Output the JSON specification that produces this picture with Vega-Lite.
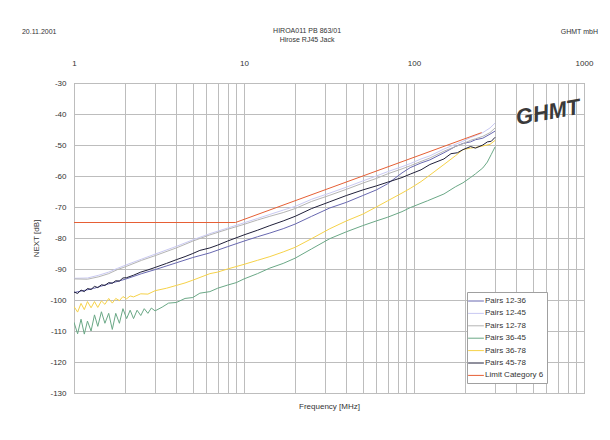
{
  "$schema": "https://vega.github.io/schema/vega-lite/v6.json",
  "width": 510,
  "height": 310,
  "autosize": {"type": "none"},
  "padding": {"left": 74, "top": 83, "right": 26, "bottom": 47},
  "background": "white",
  "config": {
    "font": "Liberation Sans",
    "view": {"stroke": "#9a9a9a", "strokeWidth": 1},
    "axis": {"labelFont": "Liberation Sans", "titleFont": "Liberation Sans", "labelColor": "#333", "titleColor": "#333"}
  },
  "datasets": {
    "curves": [
      {"s":"Pairs 12-36","f":1,"v":-97.6},{"s":"Pairs 12-36","f":1.3,"v":-96.3},{"s":"Pairs 12-36","f":1.6,"v":-94.8},{"s":"Pairs 12-36","f":2,"v":-93.3},{"s":"Pairs 12-36","f":2.5,"v":-91.5},{"s":"Pairs 12-36","f":3,"v":-90.2},{"s":"Pairs 12-36","f":4,"v":-88},{"s":"Pairs 12-36","f":5,"v":-86.3},{"s":"Pairs 12-36","f":6.3,"v":-84.8},{"s":"Pairs 12-36","f":8,"v":-82.8},{"s":"Pairs 12-36","f":10,"v":-81},{"s":"Pairs 12-36","f":12,"v":-79.6},{"s":"Pairs 12-36","f":14.2,"v":-78.4},{"s":"Pairs 12-36","f":17,"v":-77},{"s":"Pairs 12-36","f":20,"v":-75.5},{"s":"Pairs 12-36","f":25,"v":-73},{"s":"Pairs 12-36","f":32,"v":-70.3},{"s":"Pairs 12-36","f":40,"v":-68.5},{"s":"Pairs 12-36","f":50,"v":-66.3},{"s":"Pairs 12-36","f":60,"v":-64.5},{"s":"Pairs 12-36","f":70,"v":-62.5},{"s":"Pairs 12-36","f":85,"v":-59},{"s":"Pairs 12-36","f":95,"v":-57.3},{"s":"Pairs 12-36","f":110,"v":-55.8},{"s":"Pairs 12-36","f":124,"v":-54.8},{"s":"Pairs 12-36","f":150,"v":-52.5},{"s":"Pairs 12-36","f":175,"v":-50.5},{"s":"Pairs 12-36","f":194,"v":-49.5},{"s":"Pairs 12-36","f":215,"v":-49},{"s":"Pairs 12-36","f":230,"v":-48.3},{"s":"Pairs 12-36","f":254,"v":-47.8},{"s":"Pairs 12-36","f":280,"v":-46.5},{"s":"Pairs 12-36","f":300,"v":-45.5},

      {"s":"Pairs 12-45","f":1,"v":-93},{"s":"Pairs 12-45","f":1.2,"v":-92.9},{"s":"Pairs 12-45","f":1.4,"v":-92},{"s":"Pairs 12-45","f":1.6,"v":-91},{"s":"Pairs 12-45","f":1.8,"v":-89.8},{"s":"Pairs 12-45","f":2,"v":-88.8},{"s":"Pairs 12-45","f":2.5,"v":-86.8},{"s":"Pairs 12-45","f":3,"v":-85.2},{"s":"Pairs 12-45","f":4,"v":-82.7},{"s":"Pairs 12-45","f":5,"v":-80.6},{"s":"Pairs 12-45","f":6.3,"v":-78.6},{"s":"Pairs 12-45","f":8,"v":-76.8},{"s":"Pairs 12-45","f":10,"v":-75.1},{"s":"Pairs 12-45","f":12,"v":-73.7},{"s":"Pairs 12-45","f":14.2,"v":-72.4},{"s":"Pairs 12-45","f":17,"v":-71},{"s":"Pairs 12-45","f":20,"v":-69.8},{"s":"Pairs 12-45","f":25,"v":-67.5},{"s":"Pairs 12-45","f":32,"v":-65.5},{"s":"Pairs 12-45","f":40,"v":-63.6},{"s":"Pairs 12-45","f":50,"v":-61.6},{"s":"Pairs 12-45","f":60,"v":-60},{"s":"Pairs 12-45","f":70,"v":-58.6},{"s":"Pairs 12-45","f":85,"v":-57},{"s":"Pairs 12-45","f":95,"v":-56},{"s":"Pairs 12-45","f":110,"v":-54.5},{"s":"Pairs 12-45","f":124,"v":-53.5},{"s":"Pairs 12-45","f":150,"v":-51.3},{"s":"Pairs 12-45","f":175,"v":-49.8},{"s":"Pairs 12-45","f":194,"v":-48.8},{"s":"Pairs 12-45","f":215,"v":-47.6},{"s":"Pairs 12-45","f":230,"v":-47},{"s":"Pairs 12-45","f":254,"v":-46},{"s":"Pairs 12-45","f":280,"v":-44.5},{"s":"Pairs 12-45","f":300,"v":-42.9},

      {"s":"Pairs 12-78","f":1,"v":-93.2},{"s":"Pairs 12-78","f":1.2,"v":-93.3},{"s":"Pairs 12-78","f":1.4,"v":-92.5},{"s":"Pairs 12-78","f":1.6,"v":-91.5},{"s":"Pairs 12-78","f":1.8,"v":-90.2},{"s":"Pairs 12-78","f":2,"v":-89.3},{"s":"Pairs 12-78","f":2.5,"v":-87.2},{"s":"Pairs 12-78","f":3,"v":-85.7},{"s":"Pairs 12-78","f":4,"v":-83.2},{"s":"Pairs 12-78","f":5,"v":-81},{"s":"Pairs 12-78","f":6.3,"v":-79},{"s":"Pairs 12-78","f":8,"v":-77.2},{"s":"Pairs 12-78","f":10,"v":-75.6},{"s":"Pairs 12-78","f":12,"v":-74.2},{"s":"Pairs 12-78","f":14.2,"v":-73},{"s":"Pairs 12-78","f":17,"v":-71.8},{"s":"Pairs 12-78","f":20,"v":-70.5},{"s":"Pairs 12-78","f":25,"v":-68.2},{"s":"Pairs 12-78","f":32,"v":-66.2},{"s":"Pairs 12-78","f":40,"v":-64.3},{"s":"Pairs 12-78","f":50,"v":-62.3},{"s":"Pairs 12-78","f":60,"v":-60.8},{"s":"Pairs 12-78","f":70,"v":-59.3},{"s":"Pairs 12-78","f":85,"v":-57.7},{"s":"Pairs 12-78","f":95,"v":-56.7},{"s":"Pairs 12-78","f":110,"v":-55.3},{"s":"Pairs 12-78","f":124,"v":-54.2},{"s":"Pairs 12-78","f":150,"v":-52},{"s":"Pairs 12-78","f":175,"v":-50.5},{"s":"Pairs 12-78","f":194,"v":-49.6},{"s":"Pairs 12-78","f":215,"v":-48.5},{"s":"Pairs 12-78","f":230,"v":-48},{"s":"Pairs 12-78","f":254,"v":-47.2},{"s":"Pairs 12-78","f":280,"v":-46},{"s":"Pairs 12-78","f":300,"v":-44.5},

      {"s":"Pairs 36-45","f":1,"v":-107.2},{"s":"Pairs 36-45","f":1.05,"v":-110.9},{"s":"Pairs 36-45","f":1.1,"v":-106.2},{"s":"Pairs 36-45","f":1.15,"v":-111},{"s":"Pairs 36-45","f":1.2,"v":-106.8},{"s":"Pairs 36-45","f":1.26,"v":-110},{"s":"Pairs 36-45","f":1.32,"v":-104.8},{"s":"Pairs 36-45","f":1.38,"v":-108.5},{"s":"Pairs 36-45","f":1.45,"v":-103.8},{"s":"Pairs 36-45","f":1.52,"v":-107.5},{"s":"Pairs 36-45","f":1.6,"v":-104.3},{"s":"Pairs 36-45","f":1.68,"v":-109.5},{"s":"Pairs 36-45","f":1.76,"v":-104.3},{"s":"Pairs 36-45","f":1.85,"v":-107.5},{"s":"Pairs 36-45","f":1.94,"v":-102.8},{"s":"Pairs 36-45","f":2.04,"v":-106},{"s":"Pairs 36-45","f":2.14,"v":-103.3},{"s":"Pairs 36-45","f":2.24,"v":-106},{"s":"Pairs 36-45","f":2.35,"v":-103.3},{"s":"Pairs 36-45","f":2.47,"v":-105},{"s":"Pairs 36-45","f":2.59,"v":-102.8},{"s":"Pairs 36-45","f":2.72,"v":-104.3},{"s":"Pairs 36-45","f":2.85,"v":-102.6},{"s":"Pairs 36-45","f":3,"v":-103.5},{"s":"Pairs 36-45","f":3.3,"v":-102.3},{"s":"Pairs 36-45","f":3.6,"v":-101},{"s":"Pairs 36-45","f":4,"v":-100.8},{"s":"Pairs 36-45","f":4.5,"v":-99.5},{"s":"Pairs 36-45","f":5,"v":-99.2},{"s":"Pairs 36-45","f":5.5,"v":-97.8},{"s":"Pairs 36-45","f":6.3,"v":-97.3},{"s":"Pairs 36-45","f":7,"v":-96.2},{"s":"Pairs 36-45","f":8,"v":-95.2},{"s":"Pairs 36-45","f":9,"v":-94.4},{"s":"Pairs 36-45","f":10,"v":-93.2},{"s":"Pairs 36-45","f":12,"v":-91.5},{"s":"Pairs 36-45","f":14.2,"v":-89.7},{"s":"Pairs 36-45","f":17,"v":-88.2},{"s":"Pairs 36-45","f":20,"v":-86.5},{"s":"Pairs 36-45","f":25,"v":-83.5},{"s":"Pairs 36-45","f":32,"v":-80.2},{"s":"Pairs 36-45","f":40,"v":-78},{"s":"Pairs 36-45","f":50,"v":-76},{"s":"Pairs 36-45","f":60,"v":-74.5},{"s":"Pairs 36-45","f":70,"v":-73.3},{"s":"Pairs 36-45","f":85,"v":-71.5},{"s":"Pairs 36-45","f":95,"v":-70.2},{"s":"Pairs 36-45","f":120,"v":-68},{"s":"Pairs 36-45","f":150,"v":-65.8},{"s":"Pairs 36-45","f":175,"v":-63.5},{"s":"Pairs 36-45","f":194,"v":-62.2},{"s":"Pairs 36-45","f":215,"v":-60.5},{"s":"Pairs 36-45","f":230,"v":-59.3},{"s":"Pairs 36-45","f":254,"v":-57.4},{"s":"Pairs 36-45","f":270,"v":-55.5},{"s":"Pairs 36-45","f":285,"v":-53},{"s":"Pairs 36-45","f":300,"v":-50.6},

      {"s":"Pairs 36-78","f":1,"v":-102.1},{"s":"Pairs 36-78","f":1.05,"v":-103.9},{"s":"Pairs 36-78","f":1.1,"v":-101.1},{"s":"Pairs 36-78","f":1.15,"v":-103.1},{"s":"Pairs 36-78","f":1.2,"v":-100.5},{"s":"Pairs 36-78","f":1.26,"v":-102.5},{"s":"Pairs 36-78","f":1.32,"v":-100.5},{"s":"Pairs 36-78","f":1.38,"v":-102.4},{"s":"Pairs 36-78","f":1.45,"v":-100.3},{"s":"Pairs 36-78","f":1.52,"v":-101.4},{"s":"Pairs 36-78","f":1.6,"v":-99.5},{"s":"Pairs 36-78","f":1.68,"v":-101},{"s":"Pairs 36-78","f":1.76,"v":-99.5},{"s":"Pairs 36-78","f":1.85,"v":-100.2},{"s":"Pairs 36-78","f":1.94,"v":-98.9},{"s":"Pairs 36-78","f":2.04,"v":-99.6},{"s":"Pairs 36-78","f":2.14,"v":-98.7},{"s":"Pairs 36-78","f":2.24,"v":-99},{"s":"Pairs 36-78","f":2.47,"v":-98},{"s":"Pairs 36-78","f":2.72,"v":-98.1},{"s":"Pairs 36-78","f":3,"v":-97},{"s":"Pairs 36-78","f":3.5,"v":-96.2},{"s":"Pairs 36-78","f":4,"v":-95.3},{"s":"Pairs 36-78","f":4.5,"v":-94.5},{"s":"Pairs 36-78","f":5,"v":-93.6},{"s":"Pairs 36-78","f":6.3,"v":-91.5},{"s":"Pairs 36-78","f":7,"v":-91},{"s":"Pairs 36-78","f":8,"v":-90},{"s":"Pairs 36-78","f":10,"v":-88.5},{"s":"Pairs 36-78","f":12,"v":-87.2},{"s":"Pairs 36-78","f":14.2,"v":-86},{"s":"Pairs 36-78","f":17,"v":-84.5},{"s":"Pairs 36-78","f":20,"v":-83},{"s":"Pairs 36-78","f":25,"v":-80.2},{"s":"Pairs 36-78","f":32,"v":-77},{"s":"Pairs 36-78","f":40,"v":-74.5},{"s":"Pairs 36-78","f":50,"v":-72.3},{"s":"Pairs 36-78","f":60,"v":-70},{"s":"Pairs 36-78","f":70,"v":-68},{"s":"Pairs 36-78","f":85,"v":-65.5},{"s":"Pairs 36-78","f":95,"v":-64},{"s":"Pairs 36-78","f":110,"v":-61.8},{"s":"Pairs 36-78","f":124,"v":-59.7},{"s":"Pairs 36-78","f":150,"v":-56.3},{"s":"Pairs 36-78","f":175,"v":-53.5},{"s":"Pairs 36-78","f":194,"v":-51.5},{"s":"Pairs 36-78","f":215,"v":-51},{"s":"Pairs 36-78","f":230,"v":-50.8},{"s":"Pairs 36-78","f":254,"v":-50.3},{"s":"Pairs 36-78","f":280,"v":-49.8},{"s":"Pairs 36-78","f":300,"v":-48.5},

      {"s":"Pairs 45-78","f":1,"v":-97.4},{"s":"Pairs 45-78","f":1.05,"v":-97.9},{"s":"Pairs 45-78","f":1.1,"v":-96.8},{"s":"Pairs 45-78","f":1.15,"v":-97.3},{"s":"Pairs 45-78","f":1.2,"v":-96.3},{"s":"Pairs 45-78","f":1.26,"v":-96.6},{"s":"Pairs 45-78","f":1.32,"v":-95.6},{"s":"Pairs 45-78","f":1.38,"v":-96},{"s":"Pairs 45-78","f":1.45,"v":-95.1},{"s":"Pairs 45-78","f":1.52,"v":-95.3},{"s":"Pairs 45-78","f":1.6,"v":-94.4},{"s":"Pairs 45-78","f":1.68,"v":-94.6},{"s":"Pairs 45-78","f":1.76,"v":-93.8},{"s":"Pairs 45-78","f":1.85,"v":-93.9},{"s":"Pairs 45-78","f":1.94,"v":-92.9},{"s":"Pairs 45-78","f":2.04,"v":-92.8},{"s":"Pairs 45-78","f":2.24,"v":-92},{"s":"Pairs 45-78","f":2.47,"v":-91},{"s":"Pairs 45-78","f":2.72,"v":-90.3},{"s":"Pairs 45-78","f":3,"v":-89.5},{"s":"Pairs 45-78","f":3.5,"v":-88.2},{"s":"Pairs 45-78","f":4,"v":-87},{"s":"Pairs 45-78","f":4.5,"v":-86},{"s":"Pairs 45-78","f":5,"v":-85},{"s":"Pairs 45-78","f":5.5,"v":-84},{"s":"Pairs 45-78","f":6.3,"v":-83.2},{"s":"Pairs 45-78","f":7,"v":-82.3},{"s":"Pairs 45-78","f":8,"v":-81},{"s":"Pairs 45-78","f":10,"v":-79},{"s":"Pairs 45-78","f":12,"v":-77.5},{"s":"Pairs 45-78","f":14.2,"v":-76},{"s":"Pairs 45-78","f":17,"v":-74.5},{"s":"Pairs 45-78","f":20,"v":-73},{"s":"Pairs 45-78","f":25,"v":-70.5},{"s":"Pairs 45-78","f":32,"v":-68.3},{"s":"Pairs 45-78","f":40,"v":-66.3},{"s":"Pairs 45-78","f":50,"v":-64.5},{"s":"Pairs 45-78","f":60,"v":-63.2},{"s":"Pairs 45-78","f":70,"v":-62},{"s":"Pairs 45-78","f":85,"v":-60.5},{"s":"Pairs 45-78","f":95,"v":-59.4},{"s":"Pairs 45-78","f":110,"v":-58},{"s":"Pairs 45-78","f":124,"v":-56.3},{"s":"Pairs 45-78","f":150,"v":-54.5},{"s":"Pairs 45-78","f":165,"v":-52.8},{"s":"Pairs 45-78","f":180,"v":-52.5},{"s":"Pairs 45-78","f":194,"v":-51.5},{"s":"Pairs 45-78","f":215,"v":-50.5},{"s":"Pairs 45-78","f":230,"v":-51},{"s":"Pairs 45-78","f":254,"v":-50},{"s":"Pairs 45-78","f":270,"v":-49},{"s":"Pairs 45-78","f":285,"v":-48.8},{"s":"Pairs 45-78","f":300,"v":-47.5},

      {"s":"Limit Category 6","f":1,"v":-75},{"s":"Limit Category 6","f":8.91,"v":-75},{"s":"Limit Category 6","f":250,"v":-46}
    ]
  },
  "resolve": {"axis": {"x": "independent", "y": "independent"}},
  "layer": [
    {
      "data": {"name": "curves"},
      "mark": {"type": "line", "clip": true},
      "encoding": {
        "x": {
          "field": "f", "type": "quantitative",
          "scale": {"type": "log", "domain": [1, 1000], "nice": false},
          "axis": {
            "orient": "top", "title": null,
            "values": [1,2,3,4,5,6,7,8,9,10,20,30,40,50,60,70,80,90,100,200,300,400,500,600,700,800,900,1000],
            "labelExpr": "(datum.value==1||datum.value==10||datum.value==100||datum.value==1000) ? format(datum.value,'d') : ''",
            "ticks": false, "tickSize": 0, "domain": false,
            "grid": true, "gridColor": "#bdbdbd", "gridWidth": 1,
            "labelFontSize": 8, "labelPadding": 16, "labelFlush": false
          }
        },
        "y": {
          "field": "v", "type": "quantitative",
          "scale": {"domain": [-130, -30], "nice": false, "zero": false},
          "axis": {
            "values": [-130,-120,-110,-100,-90,-80,-70,-60,-50,-40,-30],
            "labelExpr": "'-' + format(abs(datum.value), 'd')",
            "title": "NEXT [dB]", "titleFontSize": 8, "titleFontWeight": "normal", "titlePadding": 9,
            "ticks": false, "tickSize": 0, "domain": false,
            "grid": true, "gridColor": "#bdbdbd",
            "labelFontSize": 8, "labelPadding": 8
          }
        },
        "color": {
          "field": "s", "type": "nominal",
          "scale": {
            "domain": ["Pairs 12-36","Pairs 12-45","Pairs 12-78","Pairs 36-45","Pairs 36-78","Pairs 45-78","Limit Category 6"],
            "range": ["#6868b0","#c9c9f2","#b4b4b4","#6aa886","#f6d248","#20203a","#e65f35"]
          },
          "legend": {
            "orient": "none", "legendX": 393, "legendY": 209,
            "title": null, "fillColor": "white", "strokeColor": "#a0a0a0",
            "padding": 3, "rowPadding": 2.4,
            "symbolType": "M-1.5,0H1.5", "symbolSize": 110, "symbolStrokeWidth": 1.5,
            "labelFontSize": 8, "labelColor": "#333", "labelOffset": 3
          }
        },
        "strokeWidth": {
          "field": "s", "type": "nominal",
          "scale": {
            "domain": ["Pairs 12-36","Pairs 12-45","Pairs 12-78","Pairs 36-45","Pairs 36-78","Pairs 45-78","Limit Category 6"],
            "range": [1, 1, 1, 1, 1, 1.3, 2]
          },
          "legend": null
        },
        "order": {"field": "f", "type": "quantitative"}
      }
    },
    {
      "data": {"values": [{}]},
      "mark": {"type": "rule", "opacity": 0},
      "encoding": {
        "x": {
          "datum": 10, "type": "quantitative",
          "axis": {
            "orient": "bottom", "title": "Frequency [MHz]", "titleFontSize": 8, "titleFontWeight": "normal",
            "labels": false, "ticks": false, "domain": false, "grid": false, "titlePadding": 9
          }
        }
      }
    },
    {
      "data": {"values": [{}]},
      "mark": {"type": "text", "clip": false, "fontSize": 7, "align": "left", "baseline": "middle", "color": "#333", "text": "20.11.2001"},
      "encoding": {"x": {"datum": 0.494, "type": "quantitative", "axis": null}, "y": {"datum": -13.5, "type": "quantitative", "axis": null}}
    },
    {
      "data": {"values": [{}]},
      "mark": {"type": "text", "clip": false, "fontSize": 7, "align": "center", "baseline": "middle", "color": "#333", "lineHeight": 9.5, "text": ["HIROA011 PB 863/01", "Hirose RJ45 Jack"]},
      "encoding": {"x": {"datum": 23.5, "type": "quantitative", "axis": null}, "y": {"datum": -13.2, "type": "quantitative", "axis": null}}
    },
    {
      "data": {"values": [{}]},
      "mark": {"type": "text", "clip": false, "fontSize": 7, "align": "right", "baseline": "middle", "color": "#333", "text": "GHMT mbH"},
      "encoding": {"x": {"datum": 1208, "type": "quantitative", "axis": null}, "y": {"datum": -13.5, "type": "quantitative", "axis": null}}
    },
    {
      "data": {"values": [{}]},
      "mark": {"type": "text", "clip": false, "fontSize": 22, "fontWeight": "bold", "fontStyle": "italic", "align": "center", "baseline": "middle", "color": "#3a3a3a", "angle": -10, "text": "GHMT"},
      "encoding": {"x": {"datum": 614, "type": "quantitative", "axis": null}, "y": {"datum": -39.5, "type": "quantitative", "axis": null}}
    }
  ]
}
